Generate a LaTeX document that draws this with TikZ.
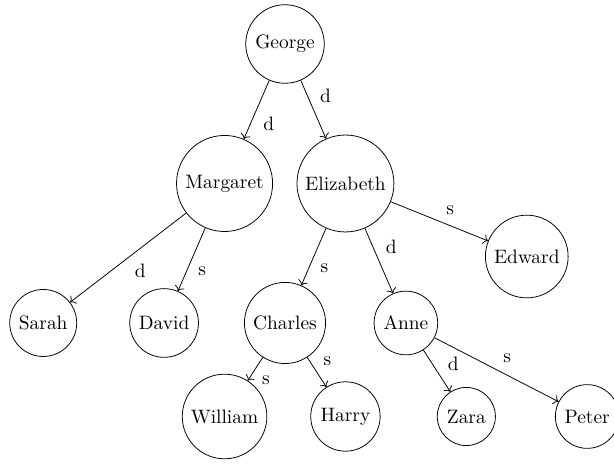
\documentclass[tikz,border=0pt]{standalone}
\usepackage{amsmath,amssymb}
\usepackage{xcolor}
\usepackage{tikz}
\usetikzlibrary{arrows.meta,positioning}

\begin{document}
\begin{tikzpicture}[person/.style={draw, circle}, rel/.style={->}]
\useasboundingbox (-5.163,0.797) rectangle (5.960,-7.609);

% People
\node[person] (george)    at (0,0)           {George};
\node[person] (margaret)  at (-1.095,-2.527) {Margaret};
\node[person] (elizabeth) at (1.095,-2.527)  {Elizabeth};
\node[person] (edward)    at (4.38,-3.85)    {Edward};
\node[person] (sarah)     at (-4.38,-5.054)  {Sarah};
\node[person] (david)     at (-2.19,-5.054)  {David};
\node[person] (charles)   at (0,-5.054)      {Charles};
\node[person] (anne)      at (2.19,-5.054)   {Anne};
\node[person] (william)   at (-1.095,-6.748) {William};
\node[person] (harry)     at (1.095,-6.748)  {Harry};
\node[person] (zara)      at (3.285,-6.748)  {Zara};
\node[person] (peter)     at (5.475,-6.748)  {Peter};

% Relations
\draw[rel] (george) -- node[midway, below right] {d} (margaret);
\draw[rel] (george) -- node[midway, above right] {d} (elizabeth);
\draw[rel] (margaret) -- node[midway, below right] {d} (sarah);
\draw[rel] (margaret) -- node[midway, below right] {s} (david);
\draw[rel] (elizabeth) -- node[midway, below right] {s} (charles);
\draw[rel] (elizabeth) -- node[midway, above right] {d} (anne);
\draw[rel] (elizabeth) -- node[midway, above right] {s} (edward);
\draw[rel] (charles) -- node[midway, below right] {s} (william);
\draw[rel] (charles) -- node[midway, above right] {s} (harry);
\draw[rel] (anne) -- node[pos=0.65, above right] {d} (zara);
\draw[rel] (anne) -- node[midway, above right] {s} (peter);
\end{tikzpicture}
\end{document}
